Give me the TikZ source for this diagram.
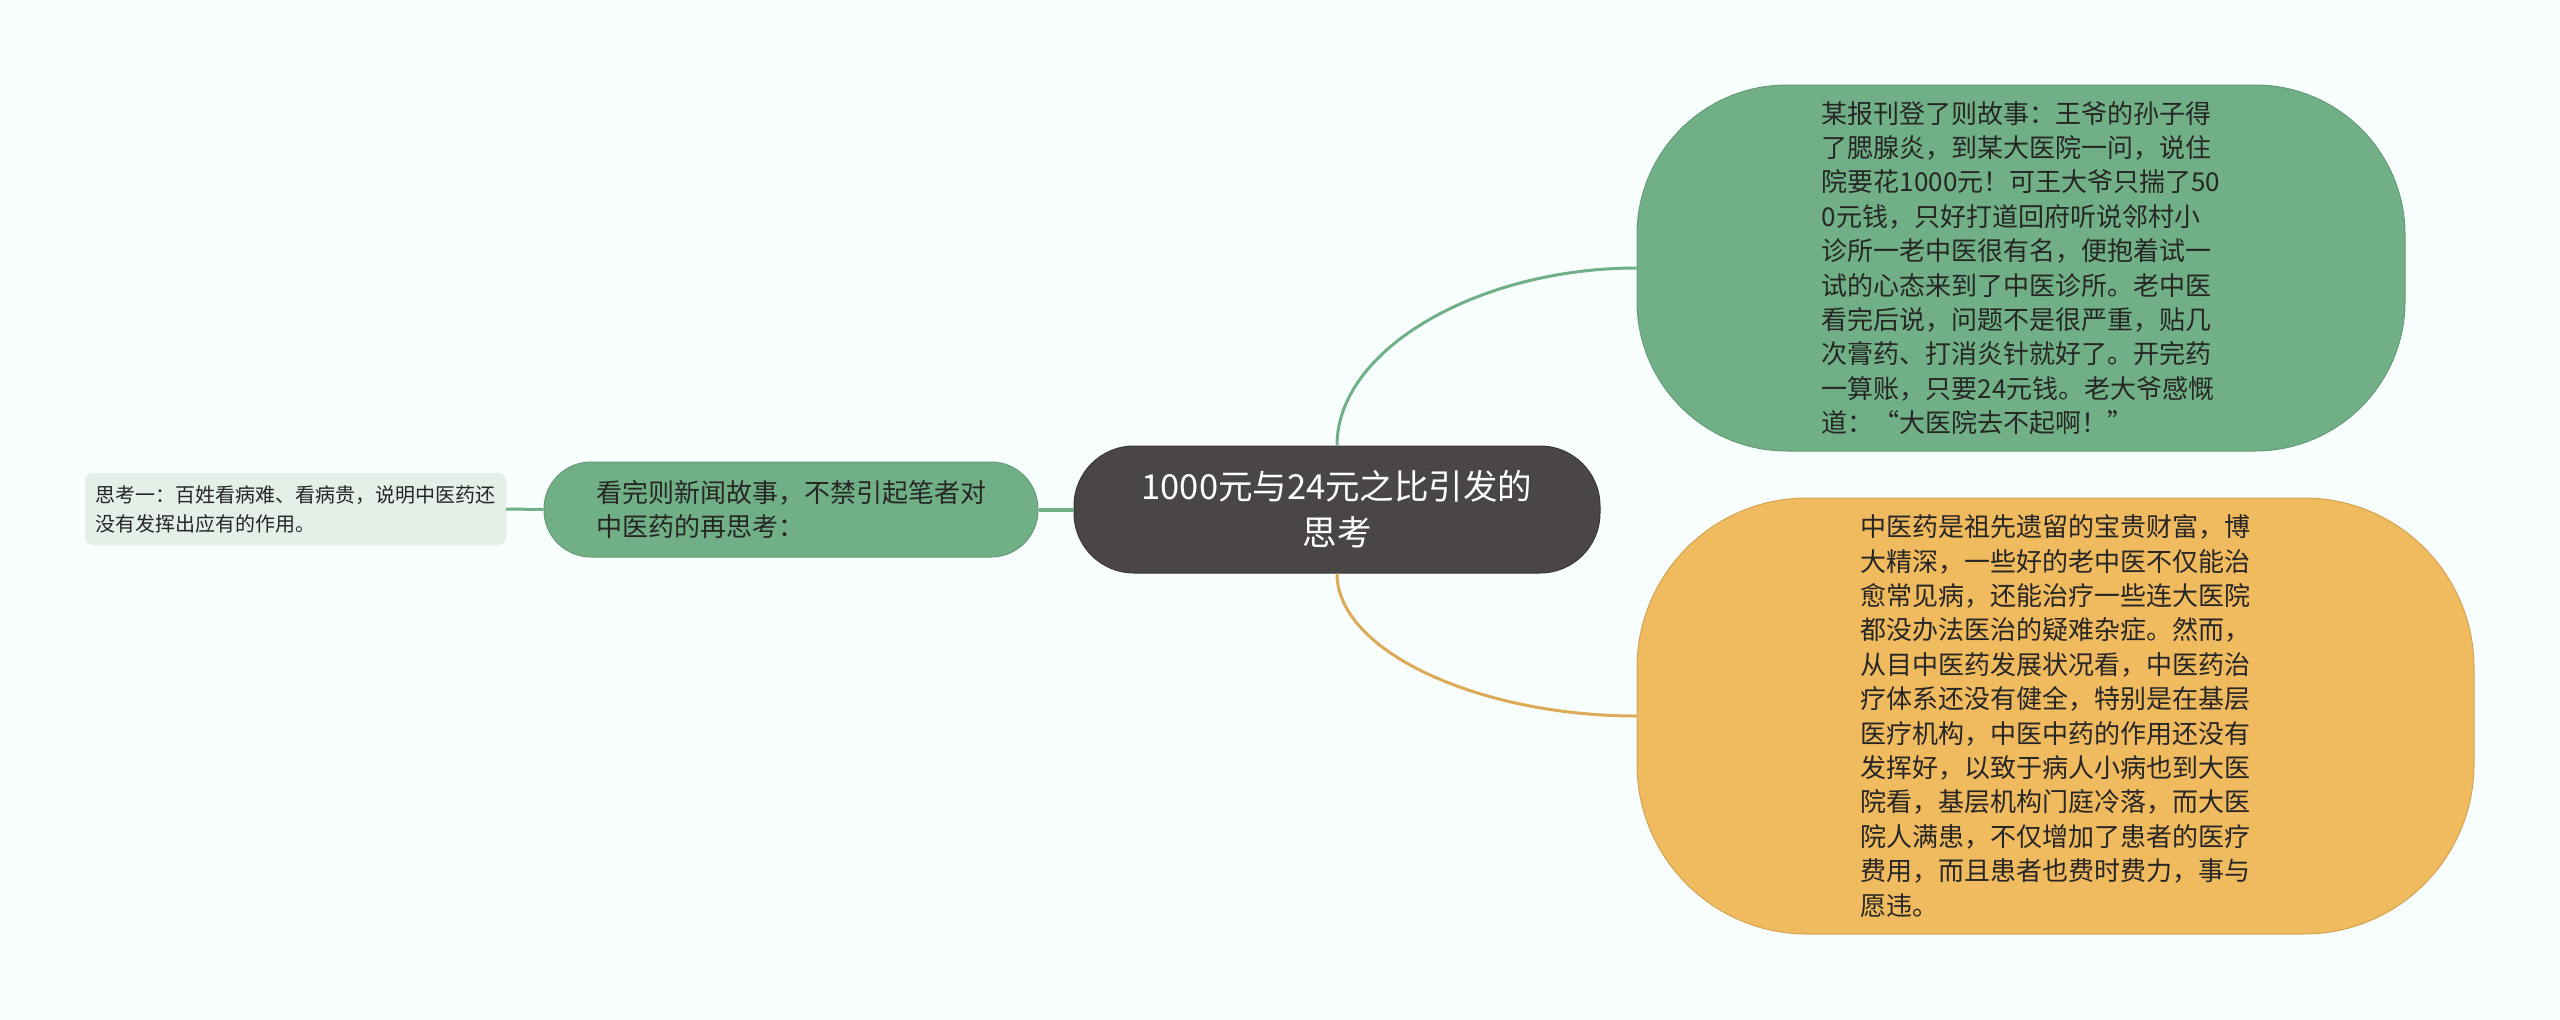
\documentclass[tikz,border=0pt]{standalone}
\usepackage{fontspec}
\setmainfont{Noto Sans CJK SC}
\usepackage{xcolor}

\definecolor{paper}{HTML}{F8FDFD}
\definecolor{rootgray}{HTML}{4B4646}
\definecolor{leafgreen}{HTML}{71B086}
\definecolor{sand}{HTML}{F0BA5F}
\definecolor{mist}{HTML}{E3EFE7}
\definecolor{ink}{HTML}{262626}

\begin{document}
\begin{tikzpicture}[x=1pt, y=-1pt,
  bubble/.style={draw=#1!88!black, line width=1pt, fill=#1, text=ink,
                 align=left, inner sep=0pt,
                 font=\fontsize{26pt}{34.4pt}\selectfont},
  rootbox/.style={draw=rootgray!80!black, line width=1pt, fill=rootgray,
                  text=white, align=center, inner sep=0pt,
                  minimum width=526, minimum height=127, rounded corners=60,
                  font=\fontsize{34.5pt}{46pt}\selectfont},
  notebox/.style={fill=mist, text=ink, align=left, inner xsep=10.5pt,
                  minimum height=72, rounded corners=8,
                  font=\fontsize{20pt}{29pt}\selectfont},
  link/.style={draw=#1, line width=3pt}]

  \useasboundingbox[fill=paper] (0,0) rectangle (2560,1020);

  \node[rootbox] (root) at (1337,509.5) {1000元与24元之比引发的\\思考};

  \node[bubble=leafgreen, minimum width=494, minimum height=95,
        rounded corners=47] (news) at (791,509.5)
        {看完则新闻故事，不禁引起笔者对\\
         中医药的再思考：};

  \node[notebox] (think) at (295.5,509)
        {思考一：百姓看病难、看病贵，说明中医药还\\
         没有发挥出应有的作用。};

  \node[bubble=leafgreen, minimum width=768, minimum height=366,
        rounded corners=150] (story) at (2021,268)
        {某报刊登了则故事：王爷的孙子得\\
         了腮腺炎，到某大医院一问，说住\\
         院要花1000元！可王大爷只揣了50\\
         0元钱，只好打道回府听说邻村小\\
         诊所一老中医很有名，便抱着试一\\
         试的心态来到了中医诊所。老中医\\
         看完后说，问题不是很严重，贴几\\
         次膏药、打消炎针就好了。开完药\\
         一算账，只要24元钱。老大爷感慨\\
         道：“大医院去不起啊！”};

  \node[bubble=sand, minimum width=837, minimum height=436,
        rounded corners=170] (value) at (2055.5,716)
        {中医药是祖先遗留的宝贵财富，博\\
         大精深，一些好的老中医不仅能治\\
         愈常见病，还能治疗一些连大医院\\
         都没办法医治的疑难杂症。然而，\\
         从目中医药发展状况看，中医药治\\
         疗体系还没有健全，特别是在基层\\
         医疗机构，中医中药的作用还没有\\
         发挥好，以致于病人小病也到大医\\
         院看，基层机构门庭冷落，而大医\\
         院人满患，不仅增加了患者的医疗\\
         费用，而且患者也费时费力，事与\\
         愿违。};

  % connectors
  \draw[link=leafgreen, line width=4pt] (root.west) -- (news.east);
  \draw[link=leafgreen] (news.west) -- (think.east);
  \draw[link=leafgreen] (root.north) .. controls +(0,-97) and +(-157,0) .. (story.west);
  \draw[link=sand!92!black] (root.south) .. controls +(0,78) and +(-157,0) .. (value.west);
\end{tikzpicture}
\end{document}
